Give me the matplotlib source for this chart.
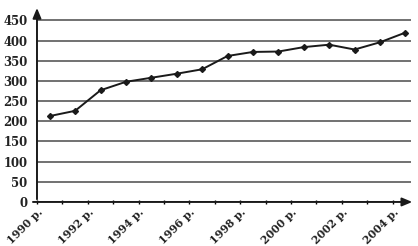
import numpy as np
import matplotlib
matplotlib.use("Agg")
import matplotlib.pyplot as plt

# ------------------------- data -------------------------
years = list(range(1990, 2005))
values = [213, 226, 277, 298, 308, 318, 329, 362, 372, 373, 384, 390, 378, 396, 420]
y_ticks = [0, 50, 100, 150, 200, 250, 300, 350, 400, 450]
x_labels = [f"{y} р." if (y - 1990) % 2 == 0 else "" for y in years]

plt.rcParams['font.family'] = ['DejaVu Serif']

fig = plt.figure(figsize=(4.18, 2.46), dpi=100)
ax = fig.add_axes([0.0885, 0.179, 0.9045, 0.80])

x_max = 14.88
ax.set_xlim(0, x_max)
ax.set_ylim(0, 488)

# gridlines
ax.hlines(y_ticks[1:], 0, 14.7, color='#666666', lw=1.3, zorder=1)

# the series: points sit between the ticks
pos = np.arange(len(years)) + 0.5
ax.plot(pos, values, color='#1a1a1a', lw=1.4, marker='D', ms=3, zorder=3)

# axes as arrows
for s in ax.spines.values():
    s.set_visible(False)
ax.annotate('', xy=(1.0, 0), xytext=(-0.018, 0), xycoords='axes fraction',
            arrowprops=dict(arrowstyle='-|>,head_length=0.6,head_width=0.25',
                            color='#1a1a1a', lw=1.4))
ax.annotate('', xy=(0, 1.0), xytext=(0, 0), xycoords='axes fraction',
            arrowprops=dict(arrowstyle='-|>,head_length=0.6,head_width=0.25',
                            color='#1a1a1a', lw=1.4))

ax.set_yticks(y_ticks)
ax.set_yticklabels([str(v) for v in y_ticks], fontsize=8.4, fontweight='bold',
                   color='#222222')
ax.tick_params(axis='y', length=0, pad=7)

ax.set_xticks(range(len(years)))
ax.set_xticklabels(x_labels, rotation=45, ha='right', va='top',
                   fontsize=7.8, fontweight='bold', rotation_mode='anchor',
                   color='#222222')
ax.tick_params(axis='x', direction='inout', length=3, width=1, pad=1.5)

fig.savefig("out.png", dpi=100)
